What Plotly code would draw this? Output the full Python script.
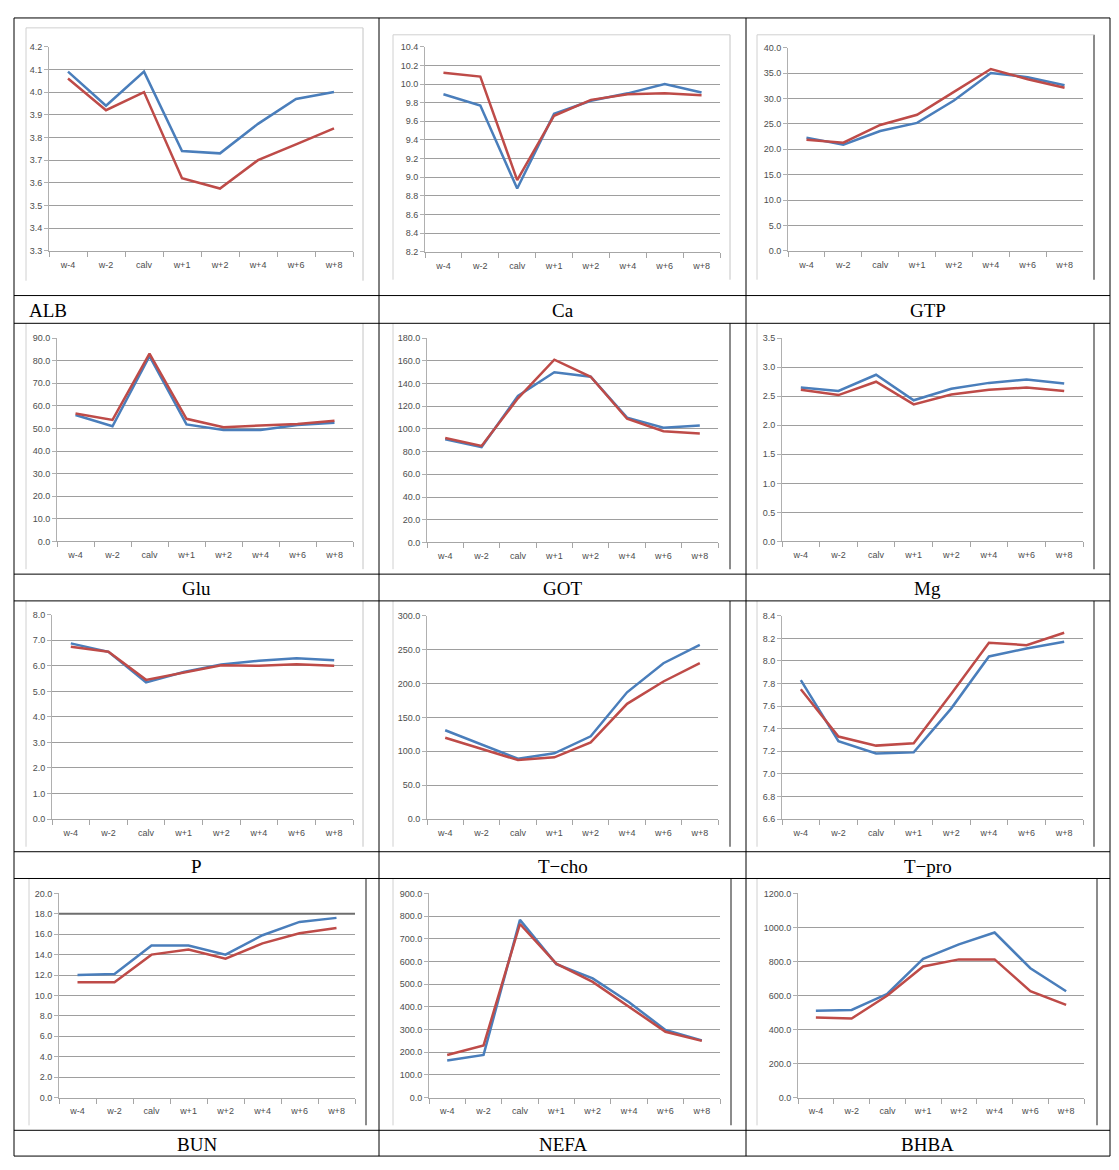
import plotly.graph_objects as go

# page body has an 8px margin; work in screen pixels and offset by it
OFF = 8
W, H = 1119 - OFF, 1170 - OFF

weeks = ["w-4", "w-2", "calv", "w+1", "w+2", "w+4", "w+6", "w+8"]
names = ["ALB", "Ca", "GTP", "Glu", "GOT", "Mg", "P", "T−cho", "T−pro", "BUN", "NEFA", "BHBA"]

alb_blue = [4.09, 3.94, 4.09, 3.74, 3.73, 3.86, 3.97, 4.00]
alb_red = [4.06, 3.92, 4.00, 3.62, 3.575, 3.70, 3.77, 3.84]
ca_blue = [9.89, 9.77, 8.88, 9.68, 9.82, 9.90, 10.00, 9.91]
ca_red = [10.12, 10.08, 8.97, 9.66, 9.83, 9.89, 9.90, 9.88]
gtp_blue = [22.3, 20.9, 23.6, 25.2, 29.6, 35.0, 34.2, 32.6]
gtp_red = [21.9, 21.3, 24.8, 26.8, 31.3, 35.8, 33.8, 32.1]
glu_blue = [56.0, 51.0, 82.0, 51.8, 49.3, 49.3, 51.6, 52.5]
glu_red = [56.6, 53.8, 83.2, 54.3, 50.6, 51.2, 52.0, 53.4]
got_blue = [91, 84, 129, 150, 146, 110, 101, 103]
got_red = [92, 85, 127, 161, 146, 109, 98, 96]
mg_blue = [2.65, 2.59, 2.87, 2.43, 2.63, 2.73, 2.79, 2.72]
mg_red = [2.61, 2.52, 2.75, 2.36, 2.53, 2.61, 2.65, 2.59]
p_blue = [6.88, 6.55, 5.35, 5.76, 6.05, 6.20, 6.30, 6.22]
p_red = [6.75, 6.55, 5.45, 5.74, 6.02, 6.00, 6.06, 6.00]
tcho_blue = [131, 110, 89, 97, 122, 187, 230, 257]
tcho_red = [120, 103, 87, 91, 113, 170, 203, 230]
tpro_blue = [7.83, 7.29, 7.18, 7.19, 7.58, 8.04, 8.11, 8.17]
tpro_red = [7.75, 7.33, 7.25, 7.27, 7.71, 8.16, 8.14, 8.25]
bun_blue = [12.0, 12.1, 14.9, 14.9, 14.0, 15.9, 17.2, 17.6]
bun_red = [11.3, 11.3, 14.0, 14.5, 13.6, 15.1, 16.1, 16.6]
nefa_blue = [163, 188, 783, 588, 525, 420, 298, 252]
nefa_red = [188, 230, 765, 590, 510, 400, 290, 250]
bhba_blue = [510, 515, 610, 815, 900, 970, 760, 625]
bhba_red = [470, 465, 600, 770, 812, 812, 625, 545]

blue_series = [alb_blue, ca_blue, gtp_blue, glu_blue, got_blue, mg_blue,
               p_blue, tcho_blue, tpro_blue, bun_blue, nefa_blue, bhba_blue]
red_series = [alb_red, ca_red, gtp_red, glu_red, got_red, mg_red,
              p_red, tcho_red, tpro_red, bun_red, nefa_red, bhba_red]

y_min = [3.3, 8.2, 0, 0, 0, 0, 0, 0, 6.6, 0, 0, 0]
y_max = [4.2, 10.4, 40, 90, 180, 3.5, 8, 300, 8.4, 20, 900, 1200]
y_step = [0.1, 0.2, 5, 10, 20, 0.5, 1, 50, 0.2, 2, 100, 200]

# plot-area pixel boxes (x0, x1, ytop, ybottom) in screen pixels
boxes = [
    (49, 353, 42, 248), (425, 720, 42, 249), (788, 1083, 43, 248),
    (57, 353, 336, 541), (427, 718, 336, 542), (782, 1083, 336, 541),
    (52, 353, 615, 821), (427, 718, 616, 821), (782, 1083, 616, 821),
    (59, 355, 896, 1102), (429, 720, 896, 1102), (798, 1084, 896, 1102),
]
frames = [
    (26, 363, 23, 278), (393, 730, 30, 277), (757, 1094, 30, 277),
    (26, 363, 321, 569), (393, 730, 321, 569), (757, 1094, 321, 569),
    (26, 363, 601, 849), (393, 730, 601, 849), (757, 1094, 601, 849),
    (29, 366, 881, 1130), (393, 731, 881, 1130), (757, 1097, 881, 1130),
]
dark_right = [False, False, True, False, True, True, False, True, True, True, True, True]

col_x = [14, 379, 746, 1110]
row_lab = [293, 574, 854, 1135]
row_bot = [321, 601, 881, 1161]

BLUE = "#4A7EBB"
RED = "#BE4B48"

def px(x):
    return (x - OFF) / W

def py(y):
    return 1 - (y - OFF) / H

fig = go.Figure()
layout = dict(width=W, height=H, margin=dict(l=0, r=0, t=0, b=0),
              paper_bgcolor="white", plot_bgcolor="white", showlegend=False)
shapes = []
annotations = []
tick_font = dict(family="Liberation Sans", size=9, color="#4d4d4d")

for i in range(12):
    xa = "x" if i == 0 else f"x{i+1}"
    ya = "y" if i == 0 else f"y{i+1}"
    fig.add_trace(go.Scatter(x=weeks, y=blue_series[i], mode="lines",
                             line=dict(color=BLUE, width=2.5), xaxis=xa, yaxis=ya,
                             hoverinfo="skip"))
    fig.add_trace(go.Scatter(x=weeks, y=red_series[i], mode="lines",
                             line=dict(color=RED, width=2.5), xaxis=xa, yaxis=ya,
                             hoverinfo="skip"))
    x0, x1, yt, yb = boxes[i]
    xkey = "xaxis" if i == 0 else f"xaxis{i+1}"
    ykey = "yaxis" if i == 0 else f"yaxis{i+1}"
    layout[xkey] = dict(domain=[px(x0), px(x1)], anchor=ya, type="category",
                        range=[-0.5, 7.5], showgrid=False, showline=True,
                        linecolor="#a6a6a6", linewidth=1, ticks="outside",
                        tickson="boundaries", ticklen=5, tickcolor="#a6a6a6",
                        ticklabelstandoff=5,
                        tickfont=tick_font, fixedrange=True, zeroline=False)
    layout[ykey] = dict(domain=[py(yb), py(yt)], anchor=xa,
                        range=[y_min[i], y_max[i]], dtick=y_step[i], tick0=y_min[i],
                        tickformat=".1f", showgrid=True, gridcolor="#9e9e9e",
                        gridwidth=1, showline=True, linecolor="#b0b0b0", linewidth=1,
                        ticks="outside", ticklen=4, tickcolor="#b0b0b0",
                        tickfont=tick_font, zeroline=False, fixedrange=True)

    fx0, fx1, fy0, fy1 = frames[i]
    shapes.append(dict(type="line", xref="paper", yref="paper",
                       x0=px(fx0), x1=px(fx0), y0=py(fy0), y1=py(fy1),
                       line=dict(color="#d0d0d0", width=1)))
    shapes.append(dict(type="line", xref="paper", yref="paper",
                       x0=px(fx1), x1=px(fx1), y0=py(fy0), y1=py(fy1),
                       line=dict(color="#8c8c8c" if dark_right[i] else "#c4c4c4",
                                 width=2 if dark_right[i] else 1)))
    if i < 3:
        shapes.append(dict(type="line", xref="paper", yref="paper",
                           x0=px(fx0), x1=px(fx1), y0=py(fy0), y1=py(fy0),
                           line=dict(color="#d0d0d0", width=1)))

# BUN darker 18.0 gridline
bun_dark_level = 18
shapes.append(dict(type="line", xref="x10 domain", yref="y10",
                   x0=0, x1=1, y0=bun_dark_level, y1=bun_dark_level,
                   line=dict(color="#6e6e6e", width=2)))

# table lines
for yv in [13, 293, 321, 574, 601, 854, 881, 1135, 1161]:
    shapes.append(dict(type="line", xref="paper", yref="paper",
                       x0=px(14), x1=px(1110), y0=py(yv), y1=py(yv),
                       line=dict(color="black", width=1)))
for xv in col_x:
    shapes.append(dict(type="line", xref="paper", yref="paper",
                       x0=px(xv), x1=px(xv), y0=py(13), y1=py(1161),
                       line=dict(color="black", width=1)))

label_font = dict(family="Liberation Serif", size=19, color="black")
for i, name in enumerate(names):
    r, c = divmod(i, 3)
    yc = (row_lab[r] + row_bot[r]) / 2 + 1
    if i == 0:
        annotations.append(dict(text=name, xref="paper", yref="paper",
                                x=px(27), y=py(yc), xanchor="left", yanchor="middle",
                                showarrow=False, font=label_font))
    else:
        xc = (col_x[c] + col_x[c + 1]) / 2
        annotations.append(dict(text=name, xref="paper", yref="paper",
                                x=px(xc), y=py(yc), xanchor="center", yanchor="middle",
                                showarrow=False, font=label_font))

layout["shapes"] = shapes
layout["annotations"] = annotations
fig.update_layout(**layout)
fig.write_html("out.html")
